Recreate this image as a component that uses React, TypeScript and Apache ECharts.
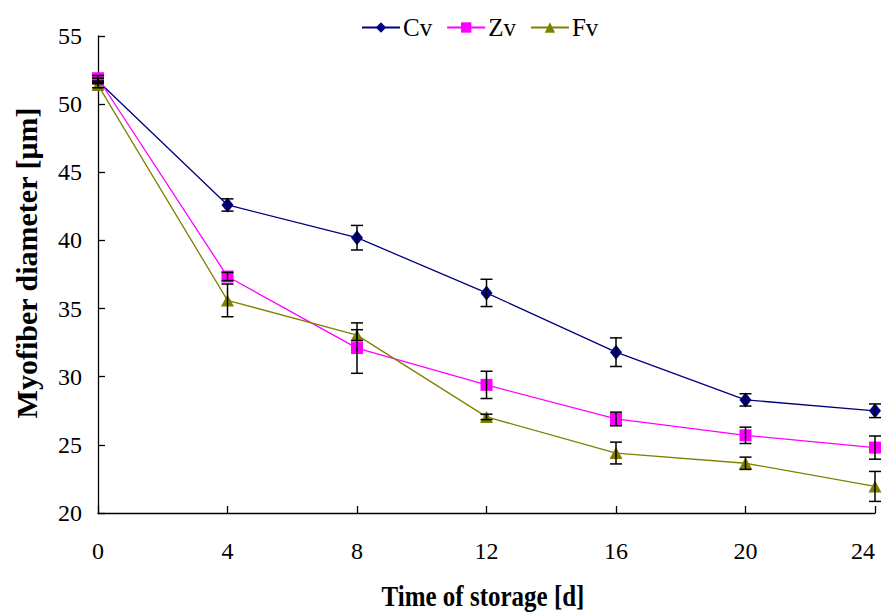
import React, { useEffect, useRef } from "react";
import * as echarts from "echarts";

const days = [0, 4, 8, 12, 16, 20, 24];
const cvMean = [51.7, 42.6, 40.2, 36.15, 31.8, 28.3, 27.5];
const cvErr = [0.2, 0.45, 0.9, 1.0, 1.05, 0.45, 0.5];
const zvMean = [51.9, 37.35, 32.1, 29.4, 26.9, 25.7, 24.8];
const zvErr = [0.2, 0.3, 1.85, 1.0, 0.5, 0.6, 0.85];
const fvMean = [51.4, 35.6, 33.05, 27.05, 24.4, 23.65, 21.95];
const fvErr = [0.2, 1.2, 0.4, 0.2, 0.8, 0.45, 1.1];

const seriesNames = ["Cv", "Zv", "Fv"];
const seriesColors = ["#000080", "#FF00FF", "#808000"];
const seriesSymbols = ["diamond", "rect", "triangle"];
const seriesSizes: any[] = [[12, 15], [12, 12], [13, 12]];

const yTitle = "Myofiber diameter [μm]";
const xTitle = "Time of storage [d]";

const FONT = "Liberation Serif";

export default function App() {
  const ref = useRef<HTMLDivElement>(null);
  useEffect(() => {
    if (!ref.current) return;
    const chart = echarts.init(ref.current, null, { renderer: "svg" });
    const means = [cvMean, zvMean, fvMean];
    const errs = [cvErr, zvErr, fvErr];

    const errData: number[][] = [];
    means.forEach((m, si) => {
      days.forEach((d, i) => {
        errData.push([d, m[i] - errs[si][i], m[i] + errs[si][i]]);
      });
    });

    const lineSeries = seriesNames.map((name, si) => ({
      name,
      type: "line",
      data: days.map((d, i) => [d, means[si][i]]),
      symbol: seriesSymbols[si],
      symbolSize: seriesSizes[si],
      color: seriesColors[si],
      lineStyle: { width: 1.3, color: seriesColors[si] },
      itemStyle: { color: seriesColors[si] },
      z: 3,
    }));

    const errSeries = {
      type: "custom",
      name: "err",
      z: 4,
      data: errData,
      renderItem: (params: any, api: any) => {
        const x = api.value(0);
        const lo = api.coord([x, api.value(1)]);
        const hi = api.coord([x, api.value(2)]);
        const cap = 6;
        const style = { stroke: "#000", lineWidth: 1.5, fill: "none" };
        return {
          type: "group",
          children: [
            { type: "line", shape: { x1: lo[0], y1: lo[1], x2: hi[0], y2: hi[1] }, style },
            { type: "line", shape: { x1: lo[0] - cap, y1: lo[1], x2: lo[0] + cap, y2: lo[1] }, style },
            { type: "line", shape: { x1: hi[0] - cap, y1: hi[1], x2: hi[0] + cap, y2: hi[1] }, style },
          ],
        };
      },
    };

    chart.setOption({
      animation: false,
      backgroundColor: "#fff",
      grid: { left: 98, right: 8, top: 36, bottom: 99, containLabel: false, outerBoundsMode: "none" },
      graphic: [
        {
          type: "text",
          x: 26,
          y: 263,
          rotation: Math.PI / 2,
          style: {
            text: yTitle,
            fontFamily: FONT,
            fontSize: 30,
            fontWeight: "bold",
            fill: "#000",
            align: "center",
            verticalAlign: "middle",
          },
        },
        {
          type: "text",
          x: 483,
          y: 611,
          scaleY: 1.22,
          style: {
            text: xTitle,
            fontFamily: FONT,
            fontSize: 25,
            fontWeight: "bold",
            fill: "#000",
            align: "center",
            verticalAlign: "bottom",
          },
        },
      ],
      legend: {
        data: seriesNames,
        top: 10,
        left: 356,
        itemWidth: 38,
        itemHeight: 13,
        itemGap: 14,
        textStyle: { fontFamily: FONT, fontSize: 25, color: "#000", padding: [0, 0, 0, -2] },
      },
      xAxis: {
        type: "value",
        min: 0,
        max: 24,
        interval: 4,
        axisLine: { lineStyle: { color: "#000", width: 1.3 } },
        axisTick: { inside: true, length: 7, lineStyle: { color: "#000", width: 1.3 } },
        axisLabel: { margin: 26, fontFamily: FONT, fontSize: 24, color: "#000", alignMaxLabel: "right" },
        splitLine: { show: false },
      },
      yAxis: {
        type: "value",
        min: 20,
        max: 55,
        interval: 5,
        axisLine: { show: true, lineStyle: { color: "#000", width: 1.3 } },
        axisTick: { show: true, inside: true, length: 7, lineStyle: { color: "#000", width: 1.3 } },
        axisLabel: { margin: 16, fontFamily: FONT, fontSize: 24, color: "#000" },
        splitLine: { show: false },
      },
      series: [...lineSeries, errSeries],
    });
    return () => chart.dispose();
  }, []);
  return (
    <div
      ref={ref}
      style={{ position: "fixed", left: 0, top: 0, width: 883, height: 612, background: "#fff" }}
    />
  );
}
